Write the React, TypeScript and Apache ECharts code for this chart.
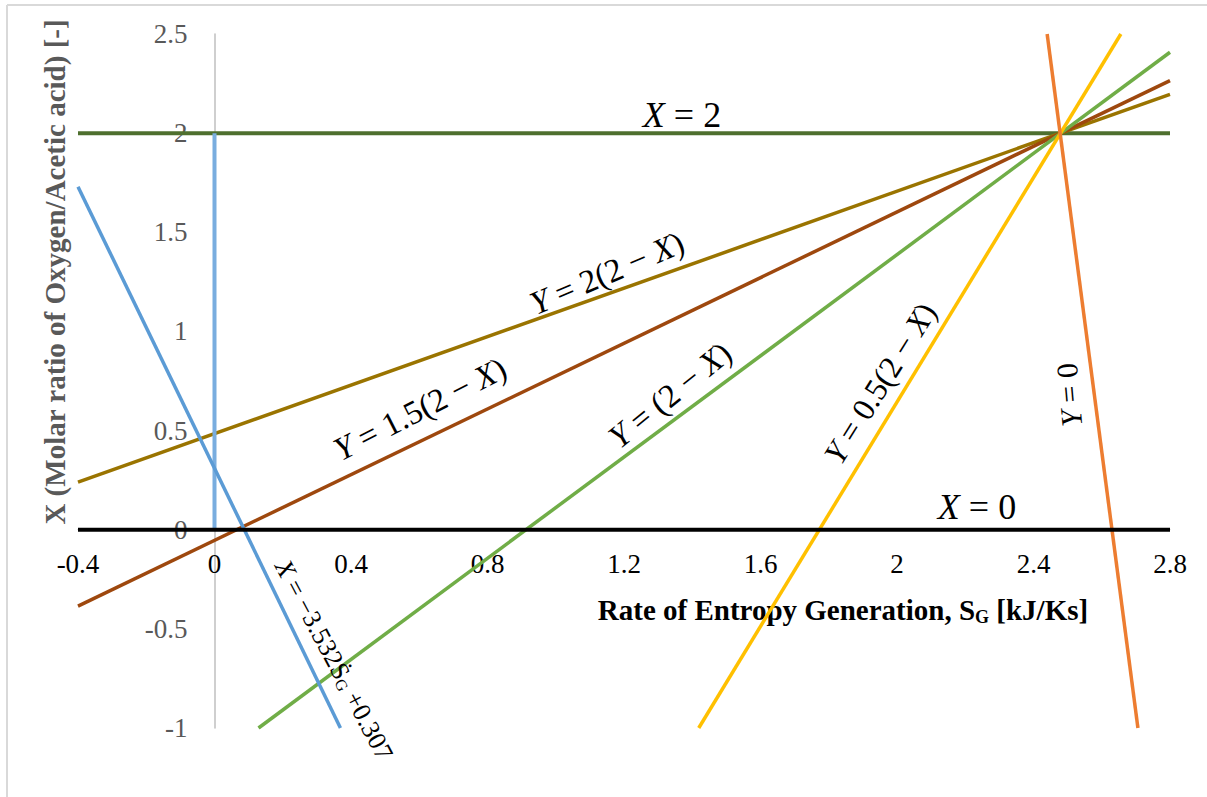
import React, { useEffect, useRef } from "react";
import * as echarts from "echarts";

// Axis ranges / ticks
const X_MIN = -0.4;
const X_MAX = 2.8;
const X_STEP = 0.4;
const Y_MIN = -1;
const Y_MAX = 2.5;
const Y_STEP = 0.5;

// Line end points [x, y]
const lineX2: number[][] = [[-0.4, 2], [2.8, 2]];
const lineX0: number[][] = [[-0.4, 0], [2.8, 0]];
const lineY2: number[][] = [[-0.4, 0.24], [2.8, 2.196]]; // Y = 2(2-X)
const lineY15: number[][] = [[-0.4, -0.385], [2.8, 2.265]]; // Y = 1.5(2-X)
const lineY1: number[][] = [[0.129, -1], [2.8, 2.408]]; // Y = (2-X)
const lineY05: number[][] = [[1.419, -1], [2.656, 2.5]]; // Y = 0.5(2-X)
const lineY0: number[][] = [[2.44, 2.5], [2.706, -1]]; // Y = 0
const lineBlue: number[][] = [[-0.4, 1.73], [0.369, -1]]; // X = -3.532 S + 0.307
const lineVert: number[][] = [[0, 0], [0, 2]];

const SERIF = "'Liberation Serif', 'Times New Roman', serif";

export default function App() {
  const ref = useRef<HTMLDivElement>(null);
  useEffect(() => {
    if (!ref.current) return;
    const chart = echarts.init(ref.current, null, { renderer: "svg" });
    const mk = (name: string, data: number[][], color: string, width = 3.5, z = 2) => ({
      name,
      type: "line",
      data,
      symbol: "none",
      silent: true,
      z,
      lineStyle: { color, width },
    });
    const deg = (d: number) => (d * Math.PI) / 180;
    const eq = (x: number, y: number, rot: number, rich: string, size = 30) => ({
      type: "text",
      x,
      y,
      rotation: deg(rot),
      z: 10,
      style: {
        text: rich,
        align: "center",
        verticalAlign: "middle",
        rich: {
          n: { fontFamily: SERIF, fontSize: size, color: "#111" },
          i: { fontFamily: SERIF, fontSize: size, fontStyle: "italic", color: "#111" },
          s: {
            fontFamily: SERIF,
            fontSize: Math.round(size * 0.62),
            color: "#111",
            padding: [Math.round(size * 0.4), 0, 0, 0],
          },
        },
      },
    });
    // grid geometry: plot spans 78..1170 horizontally, 34..728 vertically
    const gridLeft = 78;
    const gridRight = 37;
    const gridTop = 34;
    const gridBottom = 69;
    const plotW = 1207 - gridLeft - gridRight;
    const plotH = 797 - gridTop - gridBottom;
    const yAxisOffset = -((0 - X_MIN) / (X_MAX - X_MIN)) * plotW;
    const xAxisOffset = -((0 - Y_MIN) / (Y_MAX - Y_MIN)) * plotH;
    chart.setOption({
      animation: false,
      backgroundColor: "#ffffff",
      grid: { left: gridLeft, right: gridRight, top: gridTop, bottom: gridBottom, containLabel: false },
      xAxis: {
        type: "value",
        min: X_MIN,
        max: X_MAX,
        interval: X_STEP,
        offset: xAxisOffset,
        axisLine: { onZero: false, lineStyle: { color: "#bfbfbf", width: 1 } },
        axisTick: { show: false },
        splitLine: { show: false },
        axisLabel: {
          margin: 21,
          fontFamily: SERIF,
          fontSize: 27,
          color: "#000",
          formatter: (v: number) => String(Math.round(v * 10) / 10),
        },
      },
      yAxis: {
        type: "value",
        min: Y_MIN,
        max: Y_MAX,
        interval: Y_STEP,
        offset: yAxisOffset,
        axisLine: { onZero: false, lineStyle: { color: "#bfbfbf", width: 1.5 } },
        axisTick: { show: false },
        splitLine: { show: false },
        axisLabel: {
          margin: 27,
          fontFamily: SERIF,
          fontSize: 27,
          color: "#595959",
          formatter: (v: number) => String(Math.round(v * 10) / 10),
        },
      },
      series: [
        mk("X=2", lineX2, "#4e6f2e", 4),
        mk("Y=2(2-X)", lineY2, "#9a7400"),
        mk("Y=1.5(2-X)", lineY15, "#9e480e"),
        mk("Y=(2-X)", lineY1, "#70ad47"),
        mk("Y=0.5(2-X)", lineY05, "#ffc000"),
        mk("Y=0", lineY0, "#ed7d31"),
        mk("vert", lineVert, "#79addf", 4),
        mk("blue", lineBlue, "#5b9bd5"),
        mk("X=0", lineX0, "#000000", 4, 3),
      ],
      graphic: [
        { type: "line", shape: { x1: 7, y1: 5, x2: 1207, y2: 5 }, style: { stroke: "#d9d9d9", lineWidth: 2 } },
        { type: "line", shape: { x1: 7, y1: 5, x2: 7, y2: 797 }, style: { stroke: "#d9d9d9", lineWidth: 2 } },
        {
          type: "text",
          x: 55,
          y: 272,
          rotation: Math.PI / 2,
          style: {
            text: "X (Molar ratio of Oxygen/Acetic acid) [-]",
            align: "center",
            verticalAlign: "middle",
            fontFamily: SERIF,
            fontSize: 29,
            fontWeight: "bold",
            fill: "#595959",
          },
        },
        {
          type: "text",
          x: 843,
          y: 610,
          style: {
            text: "{b|Rate of Entropy Generation, S}{s|G}{b| [kJ/Ks]}",
            align: "center",
            verticalAlign: "middle",
            rich: {
              b: { fontFamily: SERIF, fontSize: 29, fontWeight: "bold", color: "#595959" },
              s: { fontFamily: SERIF, fontSize: 18, fontWeight: "bold", color: "#595959", padding: [14, 0, 0, 0] },
            },
          },
        },
        eq(682, 115, 0, "{i|X}{n| = 2}", 36),
        eq(977, 507, 0, "{i|X}{n| = 0}", 36),
        eq(607, 273, 23, "{i|Y}{n| = 2(2 − }{i|X}{n|)}", 33),
        eq(420, 409, 27, "{i|Y}{n| = 1.5(2 − }{i|X}{n|)}", 33),
        eq(670, 395, 39, "{i|Y}{n| = (2 − }{i|X}{n|)}", 33),
        eq(880, 383, 58, "{i|Y}{n| = 0.5(2 − }{i|X}{n|)}", 32),
        eq(1069, 395, 95, "{i|Y}{n| = 0}", 30),
        eq(334, 660, -62, "{i|X}{n| = −3.532Ṡ}{s|G}{n| +0.307}", 26),
      ],
    });
    return () => chart.dispose();
  }, []);
  return (
    <div
      ref={ref}
      style={{ position: "fixed", left: 0, top: 0, width: 1207, height: 797, background: "#fff" }}
    />
  );
}
